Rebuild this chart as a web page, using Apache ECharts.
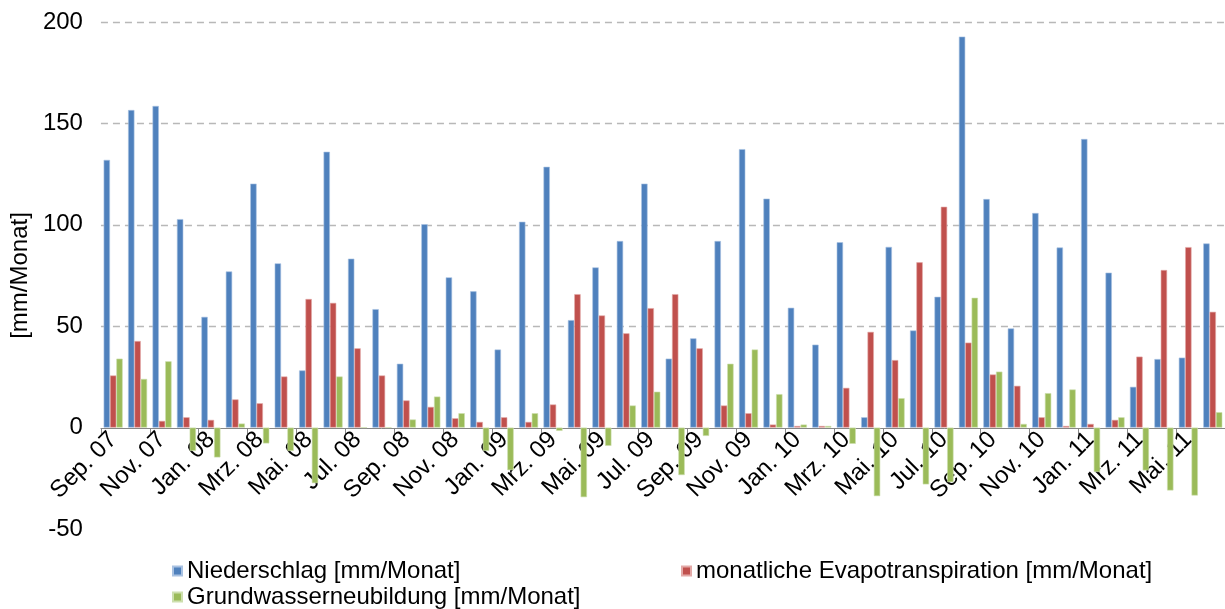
<!DOCTYPE html>
<html><head><meta charset="utf-8">
<script src="https://cdn.jsdelivr.net/npm/echarts@6/dist/echarts.min.js"></script>
<style>html,body{margin:0;padding:0;background:#fff;}#c{width:1225px;height:609px;}</style>
</head><body><div id="c"></div>
<script>
var categories = ["Sep. 07","Okt. 07","Nov. 07","Dez. 07","Jan. 08","Feb. 08","Mrz. 08","Apr. 08","Mai. 08","Jun. 08","Jul. 08","Aug. 08","Sep. 08","Okt. 08","Nov. 08","Dez. 08","Jan. 09","Feb. 09","Mrz. 09","Apr. 09","Mai. 09","Jun. 09","Jul. 09","Aug. 09","Sep. 09","Okt. 09","Nov. 09","Dez. 09","Jan. 10","Feb. 10","Mrz. 10","Apr. 10","Mai. 10","Jun. 10","Jul. 10","Aug. 10","Sep. 10","Okt. 10","Nov. 10","Dez. 10","Jan. 11","Feb. 11","Mrz. 11","Apr. 11","Mai. 11","Jun. 11"];
var niederschlag = [132,156.6,158.6,102.8,54.6,77,120.3,81,28.2,136,83.3,58.4,31.5,100.3,74.1,67.2,38.5,101.5,128.6,53,79,92,120.3,34,44,92,137.3,112.9,59.1,40.9,91.4,5.1,89.1,47.9,64.5,192.8,112.7,48.9,105.8,88.8,142.3,76.4,20.1,33.8,34.5,90.8];
var evapotranspiration = [25.7,42.7,3.3,5.1,3.8,13.9,12,25.2,63.4,61.5,39.1,25.7,13.4,10.2,4.6,2.8,5.1,2.8,11.4,65.8,55.3,46.5,58.9,65.8,39.1,10.9,7.1,1.5,0.8,0.8,19.6,47.2,33.3,81.5,108.9,41.9,26.2,20.6,5.1,0.8,1.8,3.8,35,77.7,89,57.1];
var grundwasser = [34,24,32.7,-11.5,-14.7,2,-7.8,-11.5,-27.4,25.2,0,0,4,15.3,7.1,-11.5,-21,7.1,-1.6,-34.3,-9,10.9,17.7,-23.4,-4.1,31.5,38.5,16.5,1.5,0.8,-8,-33.8,14.5,-28,-26.9,64,27.6,1.8,17,18.8,-21.9,5.1,-21.1,-31,-33.5,7.6];
var seriesNames = ["Niederschlag [mm/Monat]","monatliche Evapotranspiration [mm/Monat]","Grundwasserneubildung [mm/Monat]"];

var FONT = "Liberation Sans, Arial, sans-serif";
var chart = echarts.init(document.getElementById('c'), null, {renderer:'canvas'});
function bar(name, data, color, border){
  return {name:name, type:'bar', data:data, barGap:'0%', barCategoryGap:'22%',
    itemStyle:{color:color, borderColor:border, borderWidth:0.6}};
}
var legendText = {fontFamily:FONT, fontSize:24, color:'#000'};
function lg(name, left, top){
  return {data:[name], left:left, top:top, padding:0, itemWidth:9, itemHeight:9, icon:'rect', textStyle:legendText};
}
chart.setOption({
  animation:false,
  grid:{left:98, right:0, top:22, bottom:80, containLabel:false},
  legend:[ lg(seriesNames[0], 172, 559), lg(seriesNames[1], 681, 559), lg(seriesNames[2], 172, 585) ],
  xAxis:{type:'category', data:categories, boundaryGap:true, offset:-101,
    axisLine:{onZero:false, lineStyle:{color:'#868686', width:1}},
    axisTick:{show:true, interval:1, length:6, lineStyle:{color:'#868686'}},
    axisLabel:{interval:1, rotate:45, fontFamily:FONT, fontSize:24, color:'#000', margin:8}
  },
  yAxis:{type:'value', min:-50, max:200, interval:50,
    name:'[mm/Monat]', nameLocation:'middle', nameGap:66, nameRotate:90,
    nameTextStyle:{fontFamily:FONT, fontSize:24, color:'#000'},
    axisLine:{show:false}, axisTick:{show:false},
    axisLabel:{fontFamily:FONT, fontSize:24, color:'#000', margin:18},
    splitLine:{show:true, lineStyle:{color:['rgba(0,0,0,0)','rgba(0,0,0,0)','#b8b8b8','#b8b8b8','#b8b8b8','#b8b8b8'], type:[7,5], width:1.3}}
  },
  series:[
    bar(seriesNames[0], niederschlag, '#4F81BD', '#a9c2e2'),
    bar(seriesNames[1], evapotranspiration, '#C0504D', '#e3a9a7'),
    bar(seriesNames[2], grundwasser, '#9BBB59', '#cddfae')
  ]
});
</script></body></html>
